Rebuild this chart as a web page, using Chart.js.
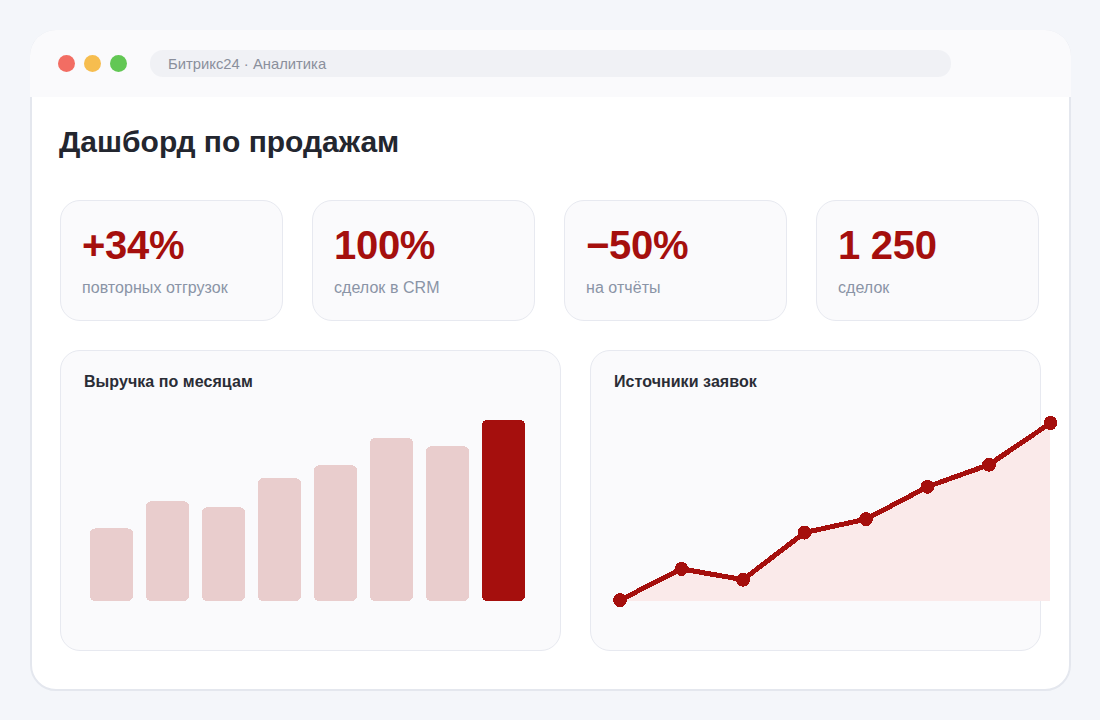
<!DOCTYPE html>
<html lang="ru">
<head>
<meta charset="utf-8">
<title>Дашборд по продажам</title>
<script src="https://cdn.jsdelivr.net/npm/chart.js@4"></script>
<style>
    html, body { margin: 0; padding: 0; width: 1100px; height: 720px; overflow: hidden; background: #f4f6fa; font-family: "Liberation Sans", Arial, sans-serif; }
    div, canvas { position: absolute; box-sizing: border-box; }
    .window { left: 30px; top: 30px; width: 1041px; height: 661px; background: #fff; border: 2px solid #e4e7ee; border-radius: 26px; }
    .topbar { left: 30px; top: 30px; width: 1041px; height: 67px; background: #fafafc; border-radius: 26px 26px 0 0; }
    .dot { top: 55px; width: 17px; height: 17px; border-radius: 50%; }
    .address { left: 150px; top: 50px; width: 801px; height: 27px; background: #f0f1f5; border-radius: 13px; color: #8a8f9c; font-size: 14.8px; line-height: 28px; padding-left: 18px; }
    .title { left: 59px; top: 124px; font-size: 30px; line-height: 36px; font-weight: bold; color: #23262f; white-space: nowrap; }
    .card { top: 200px; width: 223px; height: 121px; background: #fafafc; border: 1px solid #e7e9f0; border-radius: 20px; }
    .value { left: 21px; top: 21px; font-size: 40px; line-height: 46px; font-weight: bold; letter-spacing: -0.3px; color: #a50f0d; white-space: nowrap; }
    .label { left: 21px; top: 77px; font-size: 16px; line-height: 20px; letter-spacing: 0.05px; color: #8a94a6; white-space: nowrap; }
    .panel { top: 350px; height: 301px; background: #fafafc; border: 1px solid #e7e9f0; border-radius: 20px; }
    .panel-title { left: 23px; top: 21px; font-size: 16px; line-height: 20px; font-weight: bold; letter-spacing: 0.06px; color: #2a2d36; white-space: nowrap; }
</style>
</head>
<body>
<div class="window"></div>
<div class="topbar"></div>
<div class="dot" style="left:58px;background:#f26d63"></div>
<div class="dot" style="left:84px;background:#f6bd4f"></div>
<div class="dot" style="left:110px;background:#62c754"></div>
<div class="address">Битрикс24 · Аналитика</div>
<div class="title">Дашборд по продажам</div>

<div id="cards"></div>

<div class="panel" style="left:60px;width:501px"><div class="panel-title">Выручка по месяцам</div></div>
<div class="panel" style="left:590px;width:451px"><div class="panel-title">Источники заявок</div></div>

<canvas id="barChart" style="left:83px;top:420px"></canvas>
<canvas id="lineChart" style="left:610px;top:413px"></canvas>

<script>
const kpiValues = ['+34%', '100%', '−50%', '1 250'];
const kpiLabels = ['повторных отгрузок', 'сделок в CRM', 'на отчёты', 'сделок'];

const months = ['Янв', 'Фев', 'Мар', 'Апр', 'Май', 'Июн', 'Июл', 'Авг'];
const revenue = [40, 55, 51.7, 67.8, 75, 90, 85.5, 100];

const periods = ['1', '2', '3', '4', '5', '6', '7', '8'];
const leads = [0.5, 18, 12, 38.4, 46, 64.2, 76.6, 100];

const RED = [165, 15, 13];
const PALE = [233, 205, 205];
const AREA = [250, 234, 234];

function css(rgb) {
    return 'rgb(' + rgb.join(',') + ')';
}

// the marks in the reference have hard, jagged edges, so snap every pixel to one flat colour
function hardEdges(palette) {
    return {
        id: 'hardEdges',
        afterDraw: function(chart) {
            let ctx = chart.ctx;
            let image = ctx.getImageData(0, 0, chart.width, chart.height);
            let px = image.data;
            for (let i = 0; i < px.length; i += 4) {
                if (px[i + 3] < 128) {
                    px[i + 3] = 0;
                    continue;
                }
                let best = palette[0];
                let bestDist = Infinity;
                palette.forEach(function(c) {
                    let d = Math.abs(px[i] - c[0]) + Math.abs(px[i + 1] - c[1]) + Math.abs(px[i + 2] - c[2]);
                    if (d < bestDist) {
                        bestDist = d;
                        best = c;
                    }
                });
                px[i] = best[0];
                px[i + 1] = best[1];
                px[i + 2] = best[2];
                px[i + 3] = 255;
            }
            ctx.putImageData(image, 0, 0);
        }
    };
}

let cardsBox = document.getElementById('cards');
kpiValues.forEach(function(value, i) {
    let card = document.createElement('div');
    card.className = 'card';
    card.style.left = (60 + i * 252) + 'px';
    card.innerHTML = '<div class="value">' + value + '</div><div class="label">' + kpiLabels[i] + '</div>';
    cardsBox.appendChild(card);
});

function sizeCanvas(id, width, height) {
    let canvas = document.getElementById(id);
    canvas.width = width;
    canvas.height = height;
    canvas.style.width = width + 'px';
    canvas.style.height = height + 'px';
    return canvas.getContext('2d', { willReadFrequently: true });
}

new Chart(sizeCanvas('barChart', 449, 181), {
    type: 'bar',
    data: {
        labels: months,
        datasets: [{
            data: revenue,
            backgroundColor: revenue.map(function(v, i) { return i === revenue.length - 1 ? css(RED) : css(PALE); }),
            barThickness: 43,
            borderRadius: 6,
            borderSkipped: false
        }]
    },
    options: {
        responsive: false,
        animation: false,
        devicePixelRatio: 1,
        layout: { padding: { left: 0.5, right: 0.5 } },
        plugins: { legend: { display: false }, tooltip: { enabled: false } },
        scales: {
            x: { display: false },
            y: { display: false, min: 0, max: 100 }
        }
    },
    plugins: [hardEdges([RED, PALE])]
});

new Chart(sizeCanvas('lineChart', 450, 198), {
    type: 'line',
    data: {
        labels: periods,
        datasets: [{
            data: leads,
            borderColor: css(RED),
            borderWidth: 5,
            backgroundColor: css(AREA),
            fill: 'start',
            tension: 0,
            clip: false,
            pointRadius: 6.5,
            pointBackgroundColor: css(RED),
            pointBorderColor: css(RED),
            pointBorderWidth: 1
        }]
    },
    options: {
        responsive: false,
        animation: false,
        devicePixelRatio: 1,
        layout: { padding: { left: 10, right: 9.5, top: 10, bottom: 10 } },
        plugins: { legend: { display: false }, tooltip: { enabled: false } },
        scales: {
            x: { display: false, offset: false },
            y: { display: false, min: 0, max: 100 }
        }
    },
    plugins: [hardEdges([RED, AREA])]
});
</script>
</body>
</html>
